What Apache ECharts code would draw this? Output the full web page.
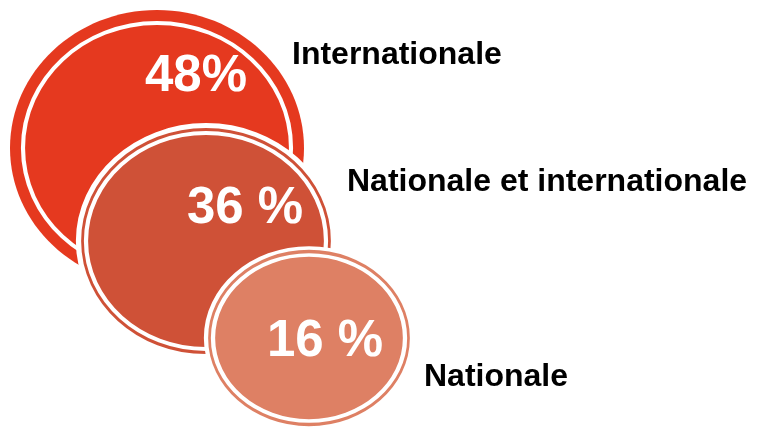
<!DOCTYPE html>
<html>
<head>
<meta charset="utf-8">
<script src="https://cdn.jsdelivr.net/npm/echarts@6/dist/echarts.min.js"></script>
<style>html,body{margin:0;padding:0;background:#fff;}#c{width:760px;height:432px;}</style>
</head>
<body>
<div id="c"></div>
<script>
// ---- data ----
const categories = ['Internationale', 'Nationale et internationale', 'Nationale'];
const shares = [48, 36, 16];
const shareLabels = ['48%', '36 %', '16 %'];

// ---- layout & style (pixel units of the hidden axes) ----
const layout = [
  { cx: 157, cy: 148, rx: 147, ry: 138, outer: 0, thin: 0, ringInset: 13, ringW: 4, labelOff: [39, -71], textPos: [292, 55], color: '#E5391F' },
  { cx: 206, cy: 241, rx: 130, ry: 118, outer: 5, thin: 3, ringInset: 10, ringW: 4, labelOff: [39, -32], textPos: [347, 182], color: '#CF5137' },
  { cx: 309, cy: 338, rx: 105, ry: 92,  outer: 4, thin: 3, ringInset: 9,  ringW: 4, labelOff: [16, 4],  textPos: [424, 377], color: '#DE8064' }
];

const ellipsePath = 'path://M50,0C77.6,0,100,22.4,100,50C100,77.6,77.6,100,50,100C22.4,100,0,77.6,0,50C0,22.4,22.4,0,50,0Z';
const FONT = '"Liberation Sans", Arial, sans-serif';

const series = [];
categories.forEach(function (cat, i) {
  const L = layout[i];
  const ob = L.outer;
  // body: fill with white outer border
  series.push({
    type: 'scatter', silent: true, z: 2 + i * 2,
    symbol: ellipsePath, symbolKeepAspect: false,
    symbolSize: [2 * (L.rx - ob / 2), 2 * (L.ry - ob / 2)],
    itemStyle: { color: L.color, borderColor: '#fff', borderWidth: ob, opacity: 1 },
    label: {
      show: true, position: 'inside', offset: L.labelOff,
      formatter: function () { return shareLabels[i]; },
      color: '#fff', fontFamily: FONT, fontWeight: 'bold', fontSize: 51,
      textBorderWidth: 0
    },
    data: [{ value: [L.cx, L.cy], share: shares[i] }]
  });
  // inner white ring
  const ri = i === 0 ? L.ringInset : ob + L.thin + L.ringW / 2;
  series.push({
    type: 'scatter', silent: true, z: 3 + i * 2,
    symbol: ellipsePath, symbolKeepAspect: false,
    symbolSize: [2 * (L.rx - ri), 2 * (L.ry - ri)],
    itemStyle: { color: 'rgba(0,0,0,0)', borderColor: '#fff', borderWidth: L.ringW, opacity: 1 },
    data: [[L.cx, L.cy]]
  });
});
// category texts
series.push({
  type: 'scatter', silent: true, z: 20, symbolSize: 0,
  itemStyle: { opacity: 1, color: '#000' },
  label: {
    show: true, position: 'inside', align: 'left', verticalAlign: 'middle',
    formatter: function (p) { return categories[p.dataIndex]; },
    color: '#000', opacity: 1, textBorderWidth: 0,
    fontFamily: FONT, fontWeight: 'bold', fontSize: 32
  },
  data: layout.map(function (L) { return L.textPos; })
});

const chart = echarts.init(document.getElementById('c'), null, { renderer: 'canvas' });
chart.setOption({
  animation: false,
  backgroundColor: '#fff',
  grid: { left: 0, right: 0, top: 0, bottom: 0 },
  xAxis: { type: 'value', min: 0, max: 760, show: false },
  yAxis: { type: 'value', min: 0, max: 432, inverse: true, show: false },
  series: series
});
</script>
</body>
</html>
